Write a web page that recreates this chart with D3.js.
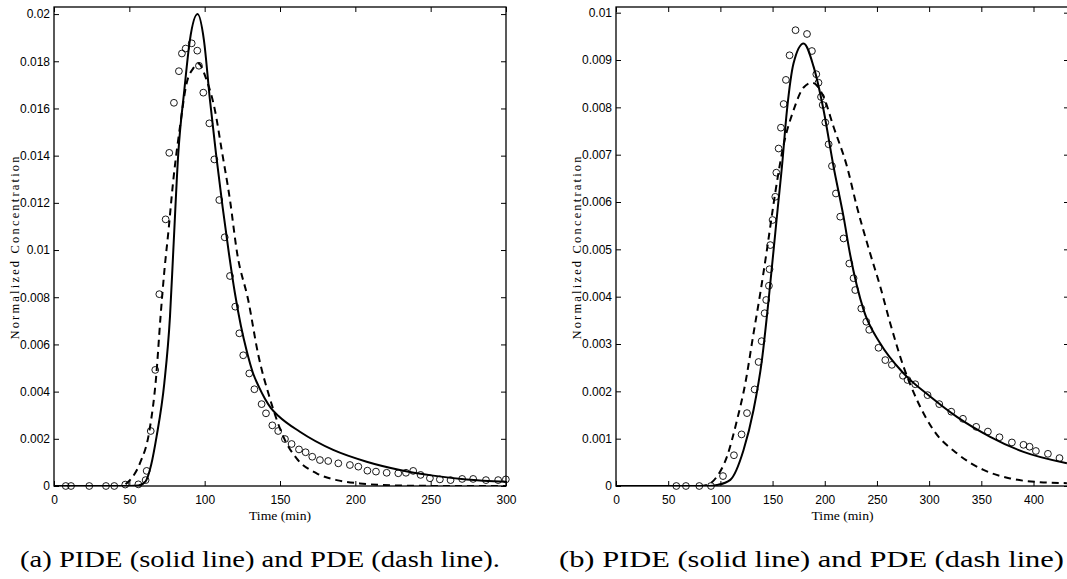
<!DOCTYPE html>
<html>
<head>
<meta charset="utf-8">
<script src="https://cdn.jsdelivr.net/npm/d3@7"></script>
<style>
  html, body { margin: 0; padding: 0; background: #fff; }
  svg { display: block; }
  .tick text { font-family: "Liberation Sans Narrow", "Liberation Sans", Arial, sans-serif; font-size: 12px; fill: #000; }
  .serif { font-family: "Liberation Serif", "Times New Roman", Times, serif; }
</style>
</head>
<body>
<svg id="chart" width="1067" height="579"></svg>
<script>
// ---------------- Data: panel (a) ----------------
const timeA_obs = [7.8, 11.3, 23.4, 34.5, 40, 47.3, 56, 60.8, 61.5, 64.2, 67.2, 69.9, 74.1, 76.5, 79.6, 82.9, 84.9, 87.4, 91.4, 95.1, 96.2, 99.1, 103.1, 106.4, 109.7, 113.3, 116.8, 120.3, 123, 125.6, 129.6, 133, 137.8, 140.7, 144.9, 148.8, 153.3, 157.7, 162.6, 167, 171.4, 176.5, 182, 188.7, 196.4, 202, 208, 213.7, 220.8, 228.5, 233.6, 238.4, 243.3, 249.5, 256.1, 263.2, 270.9, 278.2, 286.7, 294.8, 299.9];
const concA_obs = [0, 0, 0, 0, 0, 0.00006, 0.00007, 0.00025, 0.00064, 0.00233, 0.00492, 0.00813, 0.0113, 0.01412, 0.01624, 0.01758, 0.01833, 0.01854, 0.01876, 0.01845, 0.01781, 0.01667, 0.01537, 0.01384, 0.01212, 0.01054, 0.0089, 0.0076, 0.00647, 0.00554, 0.00477, 0.0041, 0.00347, 0.00308, 0.00257, 0.00233, 0.00199, 0.00178, 0.00155, 0.00143, 0.00124, 0.0011, 0.00106, 0.00096, 0.00089, 0.00082, 0.00065, 0.00061, 0.00056, 0.00054, 0.00056, 0.00064, 0.00047, 0.00033, 0.00028, 0.00025, 0.0003, 0.0003, 0.00025, 0.00025, 0.00028];

const timeA_pide = [0, 50, 56, 60.8, 64.5, 68.1, 73.2, 77, 79.2, 82.5, 86.5, 90.2, 95.3, 99.5, 103.5, 107.5, 111.9, 116, 120, 124, 128, 132, 136, 140, 144, 149, 163.2, 185.3, 207.5, 229.6, 251.7, 273.8, 300];
const concA_pide = [0, 0, 0.00002, 0.0002, 0.0009, 0.0021, 0.00435, 0.0072, 0.01, 0.0141, 0.01678, 0.0189, 0.02, 0.0189, 0.01636, 0.0141, 0.01183, 0.0099, 0.0082, 0.0068, 0.0057, 0.0048, 0.0042, 0.0037, 0.0033, 0.00297, 0.0023, 0.00153, 0.00103, 0.00068, 0.00044, 0.00028, 0.00018];

const timeA_pde = [0, 44, 50.4, 57, 63.4, 67.8, 70.7, 73.3, 75.8, 79.2, 83.6, 88, 92.4, 95.8, 101.3, 106.8, 111.3, 116.8, 121.6, 128.9, 135.6, 143.3, 152.2, 161, 174.3, 187.6, 203, 218.5, 240, 270, 300];
const concA_pde = [0, 0, 0.00025, 0.00096, 0.00237, 0.00463, 0.00717, 0.00915, 0.0107, 0.01297, 0.01522, 0.01706, 0.0177, 0.01791, 0.0172, 0.01593, 0.01424, 0.01212, 0.00985, 0.00788, 0.00555, 0.00371, 0.00209, 0.00117, 0.00054, 0.00025, 0.00011, 0.00004, 0.00001, 0, 0];

// ---------------- Data: panel (b) ----------------
const timeB_obs = [57.8, 67, 79.8, 91, 102.5, 113, 120.3, 125.5, 132.8, 136.6, 139.5, 142.4, 143.9, 146.5, 147.1, 147.8, 150, 152.6, 153.6, 155.8, 158, 160.6, 162.8, 166.3, 172, 183, 187.7, 191.9, 194, 196.4, 198, 200.5, 203.7, 206.9, 210.7, 214.8, 218, 223.5, 227.6, 229.2, 235, 239.8, 242.6, 251.5, 258, 264.3, 274.9, 279.3, 286.7, 298.5, 309.7, 321.2, 332.4, 345.1, 356.3, 367.4, 379.3, 390.4, 396.2, 402.3, 413.8, 424.9];
const concB_obs = [0, 0, 0, 0, 0.00021, 0.00065, 0.00109, 0.00154, 0.00204, 0.00262, 0.00306, 0.00365, 0.00393, 0.00423, 0.00458, 0.00509, 0.00562, 0.00611, 0.00662, 0.00713, 0.00757, 0.00807, 0.00858, 0.0091, 0.00963, 0.00955, 0.00919, 0.0087, 0.00852, 0.00822, 0.00805, 0.00768, 0.00722, 0.00676, 0.00618, 0.00569, 0.00523, 0.0047, 0.00439, 0.00414, 0.00375, 0.00347, 0.0033, 0.00292, 0.00266, 0.00256, 0.00233, 0.00224, 0.00215, 0.00192, 0.00173, 0.00157, 0.00142, 0.00125, 0.00115, 0.00103, 0.00092, 0.00087, 0.00083, 0.00074, 0.00068, 0.00059];

const timeB_pide = [0, 90, 96.7, 109.5, 122.2, 131.8, 139.8, 146.2, 151, 155, 159, 163.8, 170.1, 179.7, 189.3, 198.9, 208.4, 218, 224.4, 237.2, 253.2, 275.5, 301, 326.6, 358.5, 390.4, 432];
const concB_pide = [0, 0, 0.00002, 0.00013, 0.00076, 0.00161, 0.00266, 0.00393, 0.00499, 0.00588, 0.00675, 0.00794, 0.00893, 0.00935, 0.00886, 0.00794, 0.00675, 0.00569, 0.00488, 0.00372, 0.00301, 0.00238, 0.00189, 0.00146, 0.00104, 0.00072, 0.00048];

const timeB_pde = [0, 80, 87.2, 96.7, 106.3, 115.9, 123.9, 131.8, 138.2, 144.6, 152.6, 160.5, 170.1, 179.7, 188, 198.9, 208.4, 221.3, 230.8, 243, 253.2, 262.7, 275.5, 288.3, 304.2, 326.6, 352.1, 377.7, 406.4, 432];
const concB_pde = [0, 0, 0.00002, 0.0002, 0.00062, 0.00139, 0.00217, 0.00323, 0.00407, 0.00499, 0.0062, 0.0072, 0.00794, 0.00842, 0.00852, 0.00822, 0.00759, 0.00675, 0.0059, 0.00495, 0.00421, 0.00344, 0.00252, 0.00182, 0.00118, 0.00069, 0.00034, 0.00016, 0.00008, 0.00006];

// ---------------- Ticks & labels ----------------
const xTicksA = [0, 50, 100, 150, 200, 250, 300];
const yTicksA = [0, 0.002, 0.004, 0.006, 0.008, 0.01, 0.012, 0.014, 0.016, 0.018, 0.02];
const yTickLabelsA = ["0", "0.002", "0.004", "0.006", "0.008", "0.01", "0.012", "0.014", "0.016", "0.018", "0.02"];
const xTicksB = [0, 50, 100, 150, 200, 250, 300, 350, 400];
const yTicksB = [0, 0.001, 0.002, 0.003, 0.004, 0.005, 0.006, 0.007, 0.008, 0.009, 0.01];
const yTickLabelsB = ["0", "0.001", "0.002", "0.003", "0.004", "0.005", "0.006", "0.007", "0.008", "0.009", "0.01"];
const xLabel = "Time (min)";
const yLabel = "Normalized Concentration";
const captionA = "(a) PIDE (solid line) and PDE (dash line).";
const captionB = "(b) PIDE (solid line) and PDE (dash line)";

const svg = d3.select("#chart");

function panel(cfg) {
  const x = d3.scaleLinear().domain(cfg.xDomain).range([cfg.left, cfg.right]);
  const y = d3.scaleLinear().domain(cfg.yDomain).range([cfg.bottom, cfg.top]);
  const g = svg.append("g");

  const clipId = "clip" + cfg.id;
  svg.append("clipPath").attr("id", clipId).append("rect")
    .attr("x", cfg.left).attr("y", cfg.top)
    .attr("width", cfg.right - cfg.left).attr("height", cfg.bottom - cfg.top);

  const tickLen = 5;
  const labelMap = new Map(cfg.yTicks.map((v, i) => [v, cfg.yTickLabels[i]]));
  g.append("g").attr("transform", `translate(0,${cfg.bottom})`)
    .call(d3.axisBottom(x).tickValues(cfg.xTicks).tickSizeInner(-tickLen).tickSizeOuter(0).tickPadding(9).tickFormat(d3.format("d")))
    .call(a => a.select(".domain").remove());
  g.append("g").attr("transform", `translate(0,${cfg.top})`)
    .call(d3.axisTop(x).tickValues(cfg.xTicks).tickSizeInner(-tickLen).tickSizeOuter(0).tickFormat(""))
    .call(a => a.select(".domain").remove());
  g.append("g").attr("transform", `translate(${cfg.left},0)`)
    .call(d3.axisLeft(y).tickValues(cfg.yTicks).tickSizeInner(-tickLen).tickSizeOuter(0).tickPadding(4).tickFormat(d => labelMap.get(d)))
    .call(a => a.select(".domain").remove());
  g.append("g").attr("transform", `translate(${cfg.right},0)`)
    .call(d3.axisRight(y).tickValues(cfg.yTicks).tickSizeInner(-tickLen).tickSizeOuter(0).tickFormat(""))
    .call(a => a.select(".domain").remove());
  g.selectAll(".tick line").attr("stroke", "#000").attr("stroke-width", 1);

  g.append("rect").attr("x", cfg.left).attr("y", cfg.top)
    .attr("width", cfg.right - cfg.left).attr("height", cfg.bottom - cfg.top)
    .attr("fill", "none").attr("stroke", "#000").attr("stroke-width", 1.3);

  const line = d3.line().x(d => x(d[0])).y(d => y(d[1])).curve(d3.curveMonotoneX);
  const plots = g.append("g").attr("clip-path", `url(#${clipId})`);
  plots.append("path").datum(d3.zip(cfg.pdeT, cfg.pdeC))
    .attr("d", line).attr("fill", "none").attr("stroke", "#000")
    .attr("stroke-width", 2).attr("stroke-dasharray", "7,5");
  plots.append("path").datum(d3.zip(cfg.pideT, cfg.pideC))
    .attr("d", line).attr("fill", "none").attr("stroke", "#000").attr("stroke-width", 2);

  g.append("g").selectAll("circle").data(d3.zip(cfg.obsT, cfg.obsC)).join("circle")
    .attr("cx", d => x(d[0])).attr("cy", d => y(d[1])).attr("r", 3.4)
    .attr("fill", "none").attr("stroke", "#000").attr("stroke-width", 0.9);

  g.append("text").attr("class", "serif").attr("x", (cfg.left + cfg.right) / 2).attr("y", 520)
    .attr("text-anchor", "middle").attr("font-size", 13.5).attr("textLength", 62).attr("lengthAdjust", "spacingAndGlyphs").text(xLabel);
  g.append("text").attr("class", "serif").attr("transform", `translate(${cfg.left - 35},248) rotate(-90)`)
    .attr("text-anchor", "middle").attr("font-size", 12.5)
    .attr("textLength", 183).attr("lengthAdjust", "spacing").text(yLabel);

  g.append("text").attr("class", "serif").attr("x", cfg.capX).attr("y", 567)
    .attr("font-size", 24).attr("textLength", cfg.capW).attr("lengthAdjust", "spacingAndGlyphs").text(cfg.caption);
}

panel({
  id: "A", left: 54, right: 506, top: 7, bottom: 486,
  xDomain: [0, 300], yDomain: [0, 0.0203],
  xTicks: xTicksA, yTicks: yTicksA, yTickLabels: yTickLabelsA,
  obsT: timeA_obs, obsC: concA_obs, pideT: timeA_pide, pideC: concA_pide, pdeT: timeA_pde, pdeC: concA_pde,
  caption: captionA, capX: 20, capW: 480
});
panel({
  id: "B", left: 616, right: 1069, top: 7, bottom: 486,
  xDomain: [0, 434], yDomain: [0, 0.01012],
  xTicks: xTicksB, yTicks: yTicksB, yTickLabels: yTickLabelsB,
  obsT: timeB_obs, obsC: concB_obs, pideT: timeB_pide, pideC: concB_pide, pdeT: timeB_pde, pdeC: concB_pde,
  caption: captionB, capX: 559, capW: 505
});
</script>
</body>
</html>
